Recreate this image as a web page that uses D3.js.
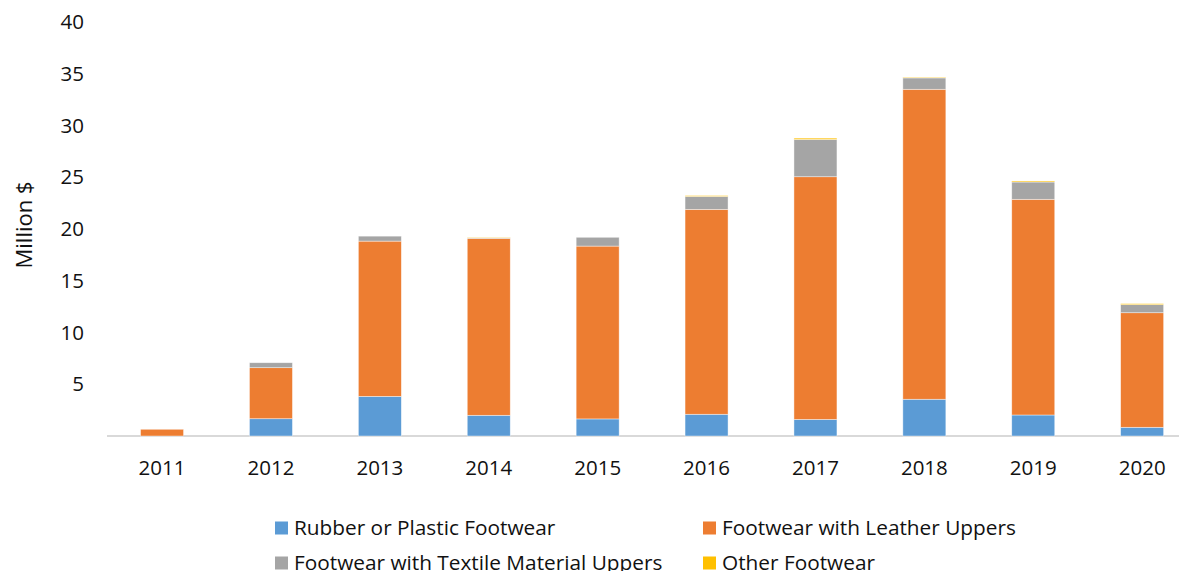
<!DOCTYPE html>
<html><head><meta charset="utf-8">
<script src="https://cdn.jsdelivr.net/npm/d3@7"></script>
<style>body{margin:0;background:#fff}svg{display:block;font-family:"Open Sans",sans-serif}</style>
</head><body><svg id="c" width="1179" height="571"></svg>
<script>
const years = ["2011","2012","2013","2014","2015","2016","2017","2018","2019","2020"];
const seriesNames = ["Rubber or Plastic Footwear","Footwear with Leather Uppers","Footwear with Textile Material Uppers","Other Footwear"];
const rubber  = [0.00, 1.67, 3.83, 2.00, 1.65, 2.10, 1.60, 3.55, 2.03, 0.84];
const leather = [0.65, 4.93, 15.00, 17.10, 16.70, 19.80, 23.45, 29.95, 20.84, 11.07];
const textile = [0.00, 0.48, 0.48, 0.05, 0.85, 1.25, 3.60, 1.10, 1.67, 0.78];
const other   = [0.00, 0.00, 0.00, 0.05, 0.00, 0.08, 0.13, 0.07, 0.10, 0.10];
const yTicks = [5,10,15,20,25,30,35,40];
const colors = ["#5B9BD5","#ED7D31","#A5A5A5","#FFC000"];
const FONT = "'Open Sans',sans-serif";

const svg = d3.select("#c");
const x = d3.scaleBand().domain(years).range([107.6, 1196.6]).paddingInner(0.6).paddingOuter(0.3);
const y = d3.scaleLinear().domain([0,40]).range([436, 22]);

const rows = years.map((yr,i)=>({year:yr, s0:rubber[i], s1:leather[i], s2:textile[i], s3:other[i]}));
const stack = d3.stack().keys(["s0","s1","s2","s3"])(rows);

// baseline
svg.append("line").attr("x1",107).attr("x2",1179).attr("y1",y(0)).attr("y2",y(0))
  .attr("stroke","#d9d9d9").attr("stroke-width",2);

const bw = 43;
svg.append("g").selectAll("g").data(stack).join("g").attr("fill",(d,i)=>colors[i])
  .selectAll("rect").data(d=>d.filter(e=>e[1]-e[0]>0)).join("rect")
  .attr("x",d=>x(d.data.year)+x.bandwidth()/2-bw/2).attr("width",bw)
  .attr("y",d=>y(d[1])).attr("height",d=>Math.max(0,y(d[0])-y(d[1])))
  .attr("stroke","#ffffff").attr("stroke-opacity",0.6).attr("stroke-width",0.7);

// y axis labels
const ya = svg.append("g").attr("transform","translate(84,0)")
  .call(d3.axisLeft(y).tickValues(yTicks).tickSize(0).tickPadding(0));
ya.select(".domain").remove();
ya.selectAll("text").attr("font-size",20.5).attr("fill","#111").attr("font-family",FONT);

// x axis labels
const xa = svg.append("g").attr("transform",`translate(0,${y(0)})`)
  .call(d3.axisBottom(x).tickSize(0).tickPadding(24));
xa.select(".domain").remove();
xa.selectAll("text").attr("font-size",20.5).attr("fill","#111").attr("font-family",FONT);

svg.append("text").attr("transform","translate(24,225) rotate(-90)").attr("text-anchor","middle")
  .attr("dy","0.35em").attr("font-size",22).attr("fill","#111").text("Million $");

// legend
const legPos = [[275,528],[703,528],[275,563],[703,563]];
const lg = svg.append("g").selectAll("g").data(seriesNames).join("g")
  .attr("transform",(d,i)=>`translate(${legPos[i][0]},${legPos[i][1]})`);
lg.append("rect").attr("x",0).attr("y",-6.5).attr("width",13).attr("height",13).attr("fill",(d,i)=>colors[i]);
lg.append("text").attr("x",19).attr("y",0).attr("dy","0.35em").attr("font-size",20.8).attr("fill","#111").text(d=>d);
</script></body></html>
